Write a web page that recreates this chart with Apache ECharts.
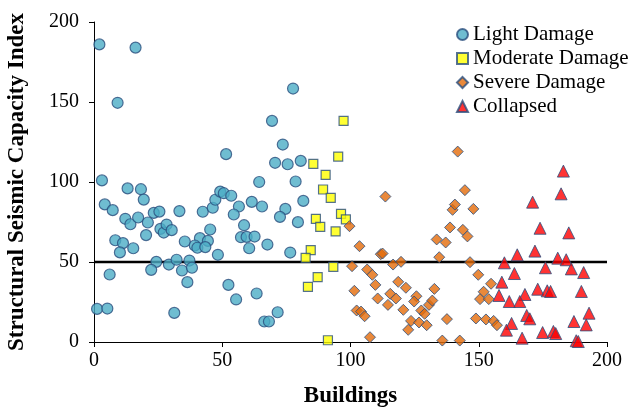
<!DOCTYPE html>
<html>
<head>
<meta charset="utf-8">
<script src="https://cdn.jsdelivr.net/npm/echarts@6/dist/echarts.min.js"></script>
<style>
  html, body { margin: 0; padding: 0; background: #fff; }
  #chart { width: 630px; height: 408px; }
</style>
</head>
<body>
<div id="chart"></div>
<script>
// [building, capacity index]
const lightDamage = [
  [2.1, 186], [16.2, 184], [9.2, 149.5], [3.1, 101], [13.1, 96], [18.3, 95.5], [19.4, 89], [4.2, 86],
  [7.3, 82.4], [12.2, 77], [14.2, 73.6], [17.2, 77.8], [21, 74.7], [23.3, 80.7], [25.5, 81.5], [33.3, 81.8],
  [20.3, 66.8], [8.3, 63.6], [11.3, 61.8], [10.1, 56], [15.3, 58.6], [25.9, 70.7], [27.2, 68.4], [28.3, 73.4],
  [30.3, 69.9], [35.4, 62.8], [24.3, 50.1], [22.3, 45.1], [29.2, 48.4], [32.2, 51.4], [34.3, 44.7], [6.1, 42.2],
  [1.2, 20.7], [5.2, 20.9], [31.3, 18.2], [37.2, 50.9], [38.2, 46.4], [36.4, 37.4], [42.4, 81.4], [46.3, 83.9],
  [47.3, 88.9], [49.2, 94], [50.6, 93], [53.5, 91.4], [51.5, 117.4], [45.3, 70.3], [41.3, 64.9], [44.4, 63.2],
  [39.3, 60.3], [40.3, 58.9], [43.4, 59.3], [48.3, 54.5], [56.5, 84.7], [54.5, 79.7], [61.5, 87.6], [65.5, 84.7],
  [64.4, 100], [58.5, 73], [57.3, 65.5], [59.5, 65.7], [62.6, 65.9], [60.5, 58.6], [67.6, 60.9], [52.4, 35.7],
  [55.4, 26.6], [63.4, 30.3], [66.4, 12.8], [68.2, 12.8], [69.4, 138.2], [77.6, 158.4], [73.6, 123.4], [70.6, 112],
  [75.5, 111.1], [80.6, 113.2], [78.6, 100.3], [81.6, 88.2], [74.6, 83.2], [72.5, 78.2], [79.5, 74.9], [76.5, 55.9],
  [71.6, 18.6]
]
const moderateDamage = [
  [97.3, 138.2], [85.5, 111.3], [95.2, 115.9], [90.3, 104.5], [89.3, 95.3], [92.3, 90.1], [96.3, 80.1],
  [98.2, 76.6], [86.5, 77], [88.2, 72], [94.2, 69.1], [84.5, 57.4], [82.5, 52.6], [93.3, 47], [87.2, 40.5],
  [83.4, 34.5], [91.2, 1.1]
]
const severeDamage = [
  [99.6, 72.4], [103.5, 59.9], [100.6, 47.4], [101.5, 32], [102.4, 19.7], [104.1, 19], [105.5, 16.1], [107.6, 3],
  [113.6, 90.9], [106.5, 45.3], [108.5, 42], [109.7, 35.7], [110.6, 27.2], [111.8, 54.9], [112.5, 55.3], [116.6, 48.4],
  [119.7, 50.1], [114.6, 23.2], [115.5, 30.1], [117.7, 27.2], [118.6, 37.6], [121.6, 33.9], [120.6, 20.1], [123.6, 13.2],
  [122.5, 7.6], [125.7, 28.6], [124.8, 25.3], [126.7, 12.2], [129.7, 10.5], [127.6, 19.7], [128.9, 17.6], [130.6, 23.2],
  [131.9, 25.9], [132.7, 33.2], [137.6, 14.3], [135.8, 0.9], [142.6, 0.9], [133.6, 64.1], [137.1, 62.2], [134.6, 53],
  [138.8, 71.6], [139.8, 82.6], [140.7, 85.9], [141.8, 119], [144.6, 94.9], [143.8, 70.1], [145.6, 66], [146.6, 49.9],
  [147.9, 83.2], [149.8, 42], [154.8, 36.4], [151.9, 31.4], [150.5, 26.8], [153.9, 26.8], [148.9, 14.7], [152.8, 14.1],
  [155.8, 13.2], [157.1, 10.5]
]
const collapsed = [
  [183, 106.8], [182.1, 92.6], [171, 87.4], [173.9, 71.1], [185.1, 68.2], [165, 54.5], [171.9, 56.8], [160, 49.5],
  [180.8, 52.4], [184.1, 51.4], [176, 46.4], [186.1, 45.7], [190.9, 43.4], [163.9, 42.8], [159, 37.4], [173, 33],
  [176.7, 32], [178, 31.6], [190, 31.6], [157.9, 29.1], [168, 29.7], [161.9, 25.3], [166, 25.3], [193, 18],
  [168.7, 16.6], [169.9, 14.5], [187.1, 12.8], [162.8, 11.6], [191.9, 10.7], [160.8, 7.4], [174.9, 5.9], [179.1, 6.6],
  [180, 5.3], [166.9, 2.4], [188, 0.8], [188.8, 0.3]
]
const seriesNames = ['Light Damage', 'Moderate Damage', 'Severe Damage', 'Collapsed']
const thresholdLine = [[0, 50], [200, 50]]

const chart = echarts.init(document.getElementById('chart'))
const serif = '"Liberation Serif", "DejaVu Serif", serif'
const edge = '#2a4f7e'

chart.setOption({
  animation: false,
  textStyle: { fontFamily: serif },
  grid: { left: 94, right: 23, top: 22, bottom: 66, outerBoundsMode: 'none' },
  legend: {
    data: seriesNames,
    orient: 'vertical',
    left: 451,
    top: 19,
    itemWidth: 11,
    itemHeight: 11,
    itemGap: 3,
    textStyle: { fontFamily: serif, fontSize: 21, color: '#000' }
  },
  xAxis: {
    type: 'value',
    min: 0,
    max: 200,
    interval: 50,
    name: 'Buildings',
    nameLocation: 'middle',
    nameGap: 43,
    nameTextStyle: { fontFamily: serif, fontSize: 23, fontWeight: 'bold', color: '#000' },
    axisLine: { lineStyle: { color: '#000', width: 1 } },
    axisTick: { show: true, length: 5, lineStyle: { color: '#000' } },
    axisLabel: { fontFamily: serif, fontSize: 20, color: '#000', margin: 9 },
    splitLine: { show: false }
  },
  yAxis: {
    type: 'value',
    min: 0,
    max: 200,
    interval: 50,
    name: 'Structural Seismic Capacity Index',
    nameLocation: 'middle',
    nameGap: 65,
    nameTextStyle: { fontFamily: serif, fontSize: 23, fontWeight: 'bold', color: '#000' },
    axisLine: { show: true, lineStyle: { color: '#000', width: 1 } },
    axisTick: { show: true, length: 5, lineStyle: { color: '#000' } },
    axisLabel: { fontFamily: serif, fontSize: 20, color: '#000', margin: 15 },
    splitLine: { show: false }
  },
  series: [
    {
      name: 'threshold',
      type: 'line',
      data: thresholdLine,
      symbol: 'none',
      z: 1,
      lineStyle: { color: '#000', width: 2.5 },
      silent: true
    },
    {
      name: seriesNames[0],
      type: 'scatter',
      data: lightDamage,
      symbol: 'circle',
      symbolSize: 11,
      z: 3,
      itemStyle: { color: '#4bacc6', borderColor: edge, borderWidth: 1.2 }
    },
    {
      name: seriesNames[1],
      type: 'scatter',
      data: moderateDamage,
      symbol: 'rect',
      symbolSize: 9,
      z: 3,
      itemStyle: { color: '#ffff00', borderColor: edge, borderWidth: 1.2 }
    },
    {
      name: seriesNames[2],
      type: 'scatter',
      data: severeDamage,
      symbol: 'diamond',
      symbolSize: 11,
      z: 3,
      itemStyle: { color: '#e46c0a', borderColor: edge, borderWidth: 1 }
    },
    {
      name: seriesNames[3],
      type: 'scatter',
      data: collapsed,
      symbol: 'triangle',
      symbolSize: 12,
      z: 3,
      itemStyle: { color: '#ff0000', borderColor: edge, borderWidth: 1 }
    }
  ]
})
</script>
</body>
</html>
